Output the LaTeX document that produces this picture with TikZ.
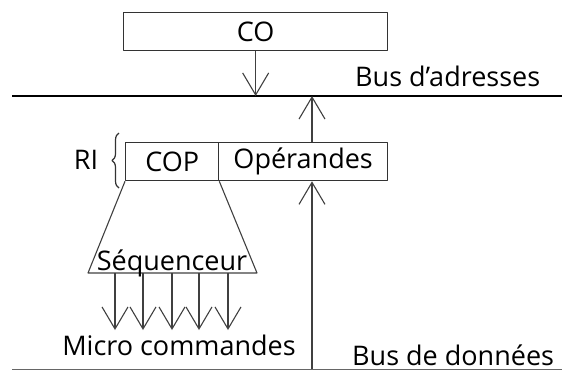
\documentclass[tikz,border=0pt]{standalone}
\usepackage{fontspec}
\setmainfont{Open Sans}
\usetikzlibrary{arrows.meta,decorations.pathreplacing}
\begin{document}
\begin{tikzpicture}[x=1pt, y=-1pt, font=\fontsize{27}{31}\selectfont, line join=round,
	>={Straight Barb[length=22pt,width=26pt]},
	reg/.style={draw=black!80, line width=1.3pt, minimum height=38pt, inner sep=0pt, anchor=north west},
	fil/.style={draw=black!75, line width=1.1pt}]
	\useasboundingbox (0,0) rectangle (562,376);
	% registres
	\node[reg, minimum width=264pt] (co) at (123,12) {CO};
	\node[reg, minimum width=93pt] (cop) at (125,142) {COP};
	\node[reg, minimum width=169pt] (ops) at (218,142) {Opérandes};
	% bus
	\coordinate (adrL) at (12,96); \coordinate (adrR) at (562,96);
	\coordinate (donL) at (12,369); \coordinate (donR) at (562,369);
	\draw[line width=2pt] (adrL) -- (adrR);
	\draw[draw=black!60, line width=1pt] (donL) -- (donR);
	\node[anchor=base west, inner sep=0pt] (badr) at (355,86) {Bus d{\char"27}adresses};
	\node[anchor=base west, inner sep=0pt] (bdon) at (352,365) {Bus de données};
	\draw[fil,->] (co.south) -- (co.south |- adrL);
	\draw[fil,->] (ops.north -| 312,0) -- (312,96);
	\draw[fil,->] (312,369) -- (ops.south -| 312,0);
	% RI
	\draw[black!80, line width=1.2pt, decorate, decoration={brace, amplitude=7pt}] (119,188) -- (119,133);
	\node[anchor=base] (ri) at (86,169) {RI};
	% sequenceur
	\coordinate (sqL) at (88,273); \coordinate (sqR) at (257,273);
	\draw[fil] (cop.south west) -- (sqL) -- (sqR) -- (cop.south east);
	\node[anchor=base] (seq) at (172,270) {Séquenceur};
	\foreach \x in {115,143,172,199,228}
		\draw[fil,->] (\x,273) -- (\x,330);
	\node[anchor=base] (mc) at (179,355) {Micro commandes};
\end{tikzpicture}
\end{document}
